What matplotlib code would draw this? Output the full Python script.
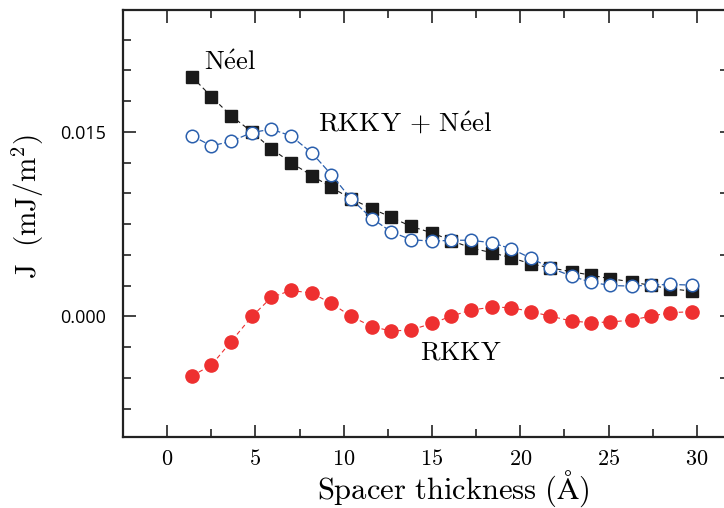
import matplotlib
matplotlib.use("Agg")
import matplotlib.pyplot as plt
from matplotlib.ticker import MultipleLocator, FixedLocator

plt.rcParams['mathtext.fontset'] = 'cm'

# spacer thickness (Angstrom)
thickness = [1.4, 2.5, 3.6, 4.8, 5.9, 7.0, 8.2, 9.3, 10.4, 11.6, 12.7, 13.8, 15.0,
             16.1, 17.2, 18.4, 19.5, 20.6, 21.7, 22.9, 24.0, 25.1, 26.3, 27.4, 28.5, 29.7]

# coupling J (mJ/m^2)
neel = [0.01949, 0.01787, 0.01633, 0.01500, 0.01363, 0.01251, 0.01144, 0.01049, 0.00957,
        0.00876, 0.00805, 0.00732, 0.00679, 0.00616, 0.00557, 0.00517, 0.00476, 0.00427,
        0.00395, 0.00363, 0.00335, 0.00306, 0.00281, 0.00251, 0.00225, 0.00205]
rkky_neel = [0.01468, 0.01387, 0.01422, 0.01495, 0.01522, 0.01468, 0.01328, 0.01152, 0.00957,
             0.00795, 0.00687, 0.00624, 0.00611, 0.00619, 0.00619, 0.00598, 0.00549, 0.00473,
             0.00395, 0.00327, 0.00278, 0.00251, 0.00246, 0.00254, 0.00260, 0.00254]
rkky = [-0.00484, -0.00397, -0.00208, 0.00000, 0.00154, 0.00211, 0.00189, 0.00105, 0.00002,
        -0.00084, -0.00119, -0.00111, -0.00057, 0.00002, 0.00051, 0.00075, 0.00071, 0.00038,
        0.00002, -0.00038, -0.00051, -0.00046, -0.00030, 0.00002, 0.00030, 0.00038]

fig = plt.figure(figsize=(7.24, 5.08), dpi=100)
ax = fig.add_axes([0.170, 0.140, 0.834, 0.840])

ax.plot(thickness, neel, color='#1a1a1a', ls=(0, (4, 3)), lw=0.8,
        marker='s', ms=8.5, mfc='#1a1a1a', mec='#1a1a1a', zorder=2)
ax.plot(thickness, rkky_neel, color='#2a5fad', ls=(0, (5, 2)), lw=0.9,
        marker='o', ms=9, mfc='white', mec='#2a5fad', mew=1.1, zorder=3)
ax.plot(thickness, rkky, color='#ee3030', ls=(0, (4, 3)), lw=0.8,
        marker='o', ms=9.5, mfc='#ee3030', mec='#ee3030', zorder=2)

ax.text(2.1, 0.0206, r'$\mathrm{N\acute{e}el}$', fontsize=19, va='center', ha='left')
ax.text(8.55, 0.0156, r'$\mathrm{RKKY\,+\,N\acute{e}el}$', fontsize=19.5, va='center', ha='left')
ax.text(14.3, -0.0029, r'$\mathrm{RKKY}$', fontsize=19, va='center', ha='left')

ax.set_xlim(-2.5, 31.7)
ax.set_ylim(-0.0098, 0.0249)

ax.xaxis.set_minor_locator(MultipleLocator(2.5))
ax.yaxis.set_major_locator(FixedLocator([0.0, 0.015]))
ax.yaxis.set_minor_locator(MultipleLocator(0.0025))
ax.set_yticklabels(['0.000', '0.015'], fontfamily='Open Sans', fontsize=13)
ax.set_xticks([0, 5, 10, 15, 20, 25, 30])
ax.set_xticklabels([f'${v}$' for v in [0, 5, 10, 15, 20, 25, 30]], fontsize=16)

ax.tick_params(which='both', direction='in', top=True, right=False, width=1.2, color='#222222')
ax.tick_params(which='major', length=9)
ax.tick_params(which='minor', length=5.5)
ax.tick_params(axis='x', pad=9)
ax.tick_params(axis='y', pad=12)

# short ticks on the right edge
sec = ax.secondary_yaxis('right')
sec.yaxis.set_major_locator(MultipleLocator(0.005))
sec.tick_params(direction='in', length=5, width=1.2, color='#222222', labelright=False)
sec.spines['right'].set_visible(False)

for s in ax.spines.values():
    s.set_linewidth(1.6)
    s.set_color('#222222')

ax.set_xlabel(r'$\mathrm{Spacer\ thickness\ (\AA)}$', fontsize=22)
ax.xaxis.set_label_coords(0.546, -0.075)
ax.set_ylabel(r'$\mathrm{J\ \ (mJ/m^2)}$', fontsize=21)
ax.yaxis.set_label_coords(-0.127, 0.54)

fig.savefig('out.png', dpi=100)
